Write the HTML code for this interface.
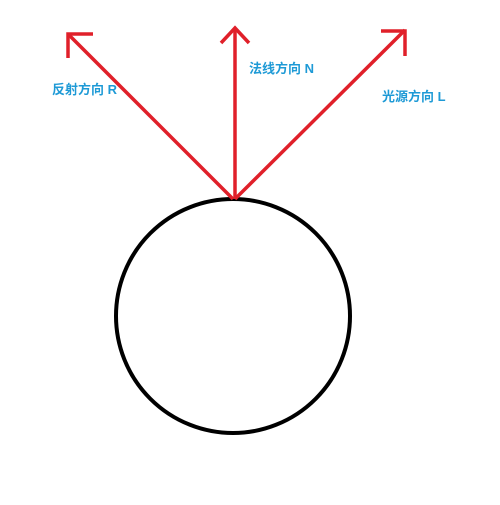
<!DOCTYPE html>
<html><head><meta charset="utf-8"><style>
html,body{margin:0;padding:0;background:#fff;}
svg text{font-family:"Liberation Sans","Noto Sans CJK SC",sans-serif;font-size:13px;font-weight:bold;fill:#1e9ad6;}
</style></head><body>
<svg width="500" height="500" viewBox="0 0 500 500">
<circle cx="233" cy="316" r="117" fill="none" stroke="#000" stroke-width="4"/>
<g stroke="#e0202a" stroke-width="3.5" fill="none" stroke-linecap="butt">
<g>
<line x1="233" y1="199" x2="68" y2="34"/><polyline points="93,34 68,34 68,58"/></g>
<g>
<line x1="235" y1="199" x2="235" y2="28"/><polyline points="221,43 235,28 249,43"/></g>
<g>
<line x1="235" y1="199" x2="405" y2="30"/><polyline points="381,31 405,31 405,56"/></g>
</g>
<text x="52" y="94">反射方向 R</text>
<text x="249" y="73">法线方向 N</text>
<text x="382" y="101">光源方向 L</text>
</svg>
</body></html>
